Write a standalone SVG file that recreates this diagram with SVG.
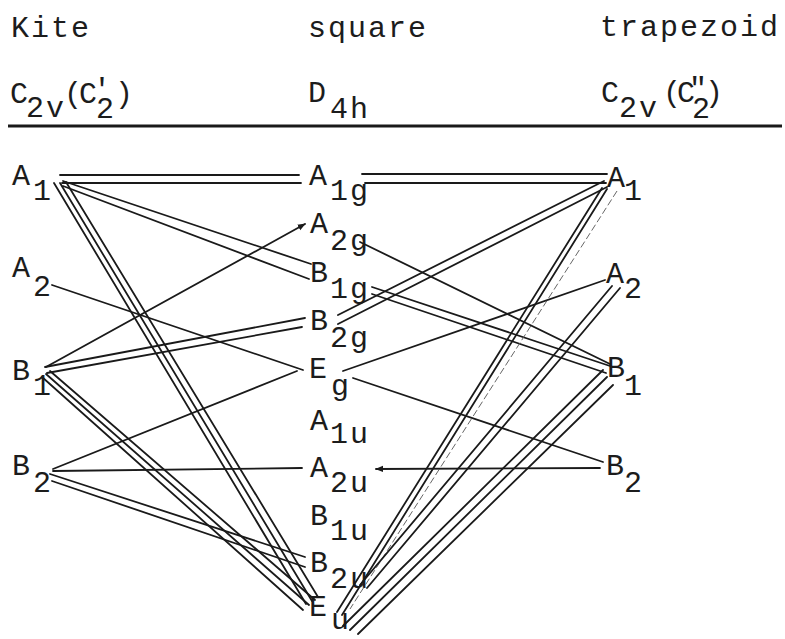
<svg xmlns="http://www.w3.org/2000/svg" width="785" height="639" viewBox="0 0 785 639">
<style>
.t{font-family:"Liberation Mono","DejaVu Sans Mono",monospace;font-size:30px;fill:#1c1c1c;letter-spacing:2px}
.e{stroke:#1a1a1a;stroke-width:1.8;fill:none;stroke-linecap:round}
.f{stroke:#555;stroke-width:0.9;fill:none;stroke-dasharray:7 3}
</style>
<defs>
<marker id="ah" viewBox="0 0 10 10" refX="9" refY="5" markerWidth="8" markerHeight="8" markerUnits="userSpaceOnUse" orient="auto">
<path d="M0,1 L10,5 L0,9 z" fill="#1a1a1a"/>
</marker>
</defs>
<rect width="785" height="639" fill="#ffffff"/>

<g id="headers">
<text class="t" x="11" y="37">Kite</text>
<text class="t" x="308" y="37">square</text>
<text class="t" x="600" y="36">trapezoid</text>
<text class="t" x="10" y="103">C<tspan x="26" y="117">2v</tspan><tspan x="64" y="103">(</tspan><tspan x="79" y="103">C</tspan><tspan x="93" y="99">'</tspan><tspan x="96" y="118">2</tspan><tspan x="115" y="103">)</tspan></text>
<text class="t" x="308" y="102">D<tspan x="330" y="118">4h</tspan></text>
<text class="t" x="601" y="102">C<tspan x="619" y="117">2v</tspan><tspan x="663" y="102">(</tspan><tspan x="677" y="102">C</tspan><tspan x="689" y="98">"</tspan><tspan x="692" y="118">2</tspan><tspan x="705" y="102">)</tspan></text>
<line x1="8" y1="126" x2="782" y2="126" stroke="#1a1a1a" stroke-width="3"/>
</g>

<g id="kite-A1"><text class="t" x="12" y="185">A<tspan x="33" y="200">1</tspan></text></g>
<g id="kite-A2"><text class="t" x="12" y="277">A<tspan x="33" y="296">2</tspan></text></g>
<g id="kite-B1"><text class="t" x="12" y="380">B<tspan x="33" y="395">1</tspan></text></g>
<g id="kite-B2"><text class="t" x="12" y="475">B<tspan x="33" y="492">2</tspan></text></g>

<g id="sq-A1g"><text class="t" x="309" y="185">A<tspan x="330" y="200">1g</tspan></text></g>
<g id="sq-A2g"><text class="t" x="310" y="233">A<tspan x="330" y="250">2g</tspan></text></g>
<g id="sq-B1g"><text class="t" x="310" y="282">B<tspan x="330" y="298">1g</tspan></text></g>
<g id="sq-B2g"><text class="t" x="310" y="330">B<tspan x="330" y="347">2g</tspan></text></g>
<g id="sq-Eg"><text class="t" x="309" y="378">E<tspan x="331" y="395">g</tspan></text></g>
<g id="sq-A1u"><text class="t" x="310" y="430">A<tspan x="330" y="443">1u</tspan></text></g>
<g id="sq-A2u"><text class="t" x="310" y="477">A<tspan x="330" y="492">2u</tspan></text></g>
<g id="sq-B1u"><text class="t" x="310" y="525">B<tspan x="330" y="540">1u</tspan></text></g>
<g id="sq-B2u"><text class="t" x="310" y="572">B<tspan x="330" y="588">2u</tspan></text></g>
<g id="sq-Eu"><text class="t" x="309" y="616">E<tspan x="331" y="629">u</tspan></text></g>

<g id="trap-A1"><text class="t" x="607" y="187">A<tspan x="624" y="200">1</tspan></text></g>
<g id="trap-A2"><text class="t" x="606" y="283">A<tspan x="624" y="298">2</tspan></text></g>
<g id="trap-B1"><text class="t" x="607" y="377">B<tspan x="624" y="395">1</tspan></text></g>
<g id="trap-B2"><text class="t" x="606" y="475">B<tspan x="624" y="492">2</tspan></text></g>

<g id="connectors">
<path class="e" d="M60,175 L299,175 M62,183 L301,183"/>
<path class="e" d="M63,181 L311,264 M63,186 L309,279"/>
<path class="e" d="M54,183 L306,604 M60,183 L312,601 M66,182 L318,597"/>
<path class="e" d="M52,285 L303,370"/>
<path class="e" d="M46,367 L305,224" marker-end="url(#ah)"/>
<path class="e" d="M45,367 L305,318 M47,373 L302,327"/>
<path class="e" d="M42,377 L303,610 M46,374 L309,605 M50,371 L315,600"/>
<path class="e" d="M53,469 L297,371"/>
<path class="e" d="M53,471 L302,468"/>
<path class="e" d="M50,474 L305,557 M52,481 L305,567"/>

<path class="e" d="M362,174 L607,174 M365,183 L606,183"/>
<path class="e" d="M360,242 L610,364"/>
<path class="e" d="M372,287 L610,366 M372,294 L606,373"/>
<path class="e" d="M338,315 L604,181 M338,324 L607,187"/>
<path class="e" d="M343,371 L605,280"/>
<path class="e" d="M353,378 L603,462"/>
<path class="e" d="M600,468 L376,469" marker-end="url(#ah)"/>
<path class="e" d="M602,188 L337,612 M607,189 L342,615"/>
<path class="f" d="M617,191 L350,609"/>
<path class="e" d="M603,370 L343,626 M607,377 L350,630 M613,385 L358,634"/>
<path class="e" d="M612,286 L360,585 M620,288 L367,588"/>
</g>
</svg>
